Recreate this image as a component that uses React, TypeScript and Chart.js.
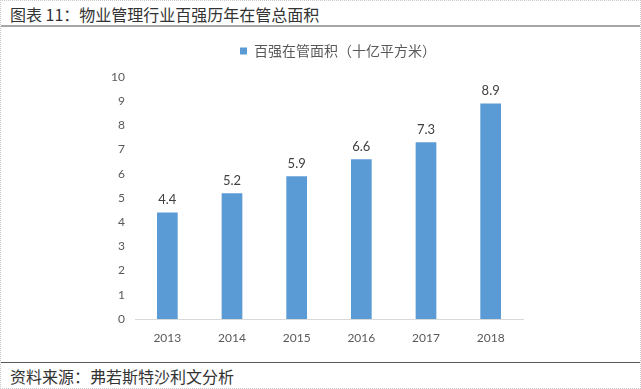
import React, { useEffect, useRef } from "react";
import { Chart, registerables } from "chart.js";

Chart.register(...registerables);

const categories = ["2013", "2014", "2015", "2016", "2017", "2018"];
const seriesName = "百强在管面积（十亿平方米）";
const values = [4.4, 5.2, 5.9, 6.6, 7.3, 8.9];
const titleText = "图表 11：物业管理行业百强历年在管总面积";
const sourceText = "资料来源：弗若斯特沙利文分析";

const numFont = "Lato, 'Noto Sans CJK SC', sans-serif";

const dataLabelPlugin = {
  id: "dataLabels",
  afterDatasetsDraw(chart: any) {
    const ctx = chart.ctx;
    ctx.save();
    ctx.font = `13px ${numFont}`;
    ctx.fillStyle = "#404040";
    ctx.textAlign = "center";
    ctx.textBaseline = "bottom";
    chart.getDatasetMeta(0).data.forEach((bar: any, i: number) => {
      const v = chart.data.datasets[0].data[i] as number;
      ctx.fillText(v.toFixed(1), bar.x, bar.y - 6);
    });
    ctx.restore();
  },
};

const legendGapPlugin = {
  id: "legendGap",
  beforeLayout(chart: any) {
    const l = chart.legend;
    if (l && !l._gapPatched) {
      const orig = l.fit.bind(l);
      l.fit = function () {
        orig();
        this.height += 9;
      };
      l._gapPatched = true;
    }
  },
  afterLayout(chart: any) {
    const l = chart.legend;
    if (l) {
      l.left += 9;
      l.right += 9;
    }
  },
};

export default function App() {
  const ref = useRef<HTMLCanvasElement | null>(null);
  useEffect(() => {
    document.body.style.margin = "0";
    if (!ref.current) return;
    const chart = new Chart(ref.current, {
      type: "bar",
      data: {
        labels: categories,
        datasets: [
          {
            label: seriesName,
            data: values,
            backgroundColor: "#5B9BD5",
            borderWidth: 0,
            categoryPercentage: 1,
            barPercentage: 0.32,
          },
        ],
      },
      options: {
        animation: false,
        responsive: false,
        maintainAspectRatio: false,
        layout: { padding: { left: 100, right: 118, top: 8, bottom: 12 } },
        plugins: {
          tooltip: { enabled: false },
          legend: {
            display: true,
            position: "top",
            fullSize: false,
            labels: {
              boxWidth: 7,
              boxHeight: 7,
              padding: 10,
              color: "#595959",
              font: { size: 14, family: "'Noto Sans CJK SC', sans-serif" },
            },
          },
        },
        scales: {
          x: {
            grid: { display: false, drawTicks: false },
            border: { display: true, color: "#D9D9D9", width: 1 },
            ticks: {
              color: "#595959",
              font: { size: 12, family: numFont },
              padding: 12,
            },
            afterFit: (s: any) => {
              s.height = 30;
            },
          },
          y: {
            min: 0,
            max: 10,
            grid: { display: false, drawTicks: false },
            border: { display: false },
            ticks: {
              stepSize: 1,
              color: "#595959",
              font: { size: 12, family: numFont },
              padding: 10,
            },
            afterFit: (s: any) => {
              s.width = 35;
            },
          },
        },
      },
      plugins: [legendGapPlugin, dataLabelPlugin],
    });
    return () => chart.destroy();
  }, []);

  return (
    <div
      style={{
        position: "relative",
        width: 641,
        height: 389,
        boxSizing: "border-box",
        border: "1px dotted #C8C8C8",
        background: "#fff",
        fontFamily: "'Noto Sans CJK SC', sans-serif",
        overflow: "hidden",
      }}
    >
      <div
        style={{
          position: "absolute",
          left: 9,
          top: 2,
          fontSize: 16,
          lineHeight: "22px",
          color: "#333",
        }}
      >
        {titleText}
      </div>
      <div
        style={{
          position: "absolute",
          left: 0,
          top: 24,
          width: 641,
          height: 2,
          background: "#A6A6A6",
        }}
      />
      <canvas
        ref={ref}
        width={641}
        height={335}
        style={{ position: "absolute", left: -1, top: 25, width: 641, height: 335 }}
      />
      <div
        style={{
          position: "absolute",
          left: 0,
          top: 361,
          width: 641,
          height: 1,
          background: "#595959",
        }}
      />
      <div
        style={{
          position: "absolute",
          left: 9,
          top: 364,
          fontSize: 16,
          lineHeight: "22px",
          color: "#333",
        }}
      >
        {sourceText}
      </div>
    </div>
  );
}
